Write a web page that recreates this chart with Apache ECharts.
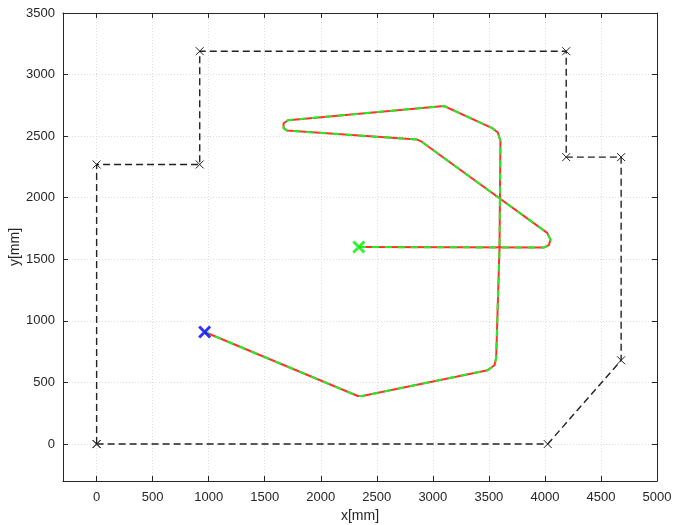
<!DOCTYPE html>
<html>
<head>
<meta charset="utf-8">
<script src="https://cdn.jsdelivr.net/npm/echarts@6/dist/echarts.min.js"></script>
<style>html,body{margin:0;padding:0;background:#fff}#c{width:673px;height:525px}</style>
</head>
<body>
<div id="c"></div>
<script>
// Boundary polygon (black dashed, x markers)
var boundary = [[0,0],[0,2270],[920,2270],[920,3190],[4190,3190],[4190,2330],[4680,2330],[4680,680],[4025,0],[0,0]];
// Trajectory (red line with green dashes)
var path = [[2340,1600],[3990,1595],[4035,1615],[4050,1660],[4020,1715],[2900,2455],[2860,2472],[1700,2545],[1668,2565],[1668,2605],[1710,2630],[3100,2745],[3530,2565],[3580,2530],[3603,2460],[3595,1600],[3565,700],[3550,640],[3490,600],[2370,390],[2330,390],[964,910]];
var startPt = [[2340,1600]];
var endPt = [[964,910]];
var xTicks = [0,500,1000,1500,2000,2500,3000,3500,4000,4500,5000];
var yTicks = [0,500,1000,1500,2000,2500,3000,3500];

var X = 'path://M0,0L10,10M10,0L0,10';
var axisCol = '#262626';
var font = 'Liberation Sans, Arial, sans-serif';
function fmt(v){ return String(v); }

function xAx(pos, show) {
  return {
    type:'value', position:pos, min:-300, max:5000, interval:100,
    axisLine:{show:true, onZero:false, lineStyle:{color:axisCol, width:1}},
    axisTick:{show:true, inside:true, length:5, customValues:xTicks, lineStyle:{color:axisCol}},
    axisLabel:{show:show, customValues:xTicks, formatter:fmt, color:axisCol, fontSize:13, fontFamily:font, margin:10},
    splitLine:{show:show, lineStyle:{color:'#dcdcdc', type:[1,2], width:1}},
    name: show ? 'x[mm]' : '', nameLocation:'middle', nameGap:28, nameMoveOverlap:false,
    nameTextStyle:{color:axisCol, fontSize:14, fontFamily:font}
  };
}
function yAx(pos, show) {
  return {
    type:'value', position:pos, min:-300, max:3500, interval:100,
    axisLine:{show:true, onZero:false, lineStyle:{color:axisCol, width:1}},
    axisTick:{show:true, inside:true, length:5, customValues:yTicks, lineStyle:{color:axisCol}},
    axisLabel:{show:show, customValues:yTicks, formatter:fmt, color:axisCol, fontSize:13, fontFamily:font, margin:8},
    splitLine:{show:show, lineStyle:{color:'#dcdcdc', type:[1,2], width:1}},
    name: show ? 'y[mm]' : '', nameLocation:'middle', nameGap:41, nameRotate:90, nameMoveOverlap:false,
    nameTextStyle:{color:axisCol, fontSize:14, fontFamily:font}
  };
}

var chart = echarts.init(document.getElementById('c'), null, {renderer:'canvas'});
chart.setOption({
  animation:false,
  backgroundColor:'#fff',
  grid:{left:63, right:16, top:13, bottom:44, containLabel:false, outerBoundsMode:'none'},
  xAxis:[xAx('bottom', true), xAx('top', false)],
  yAxis:[yAx('left', true), yAx('right', false)],
  series:[
    {type:'line', data:boundary, symbol:X, symbolSize:8, showSymbol:true,
     lineStyle:{color:'#222', width:1.4, type:[7,4]},
     itemStyle:{color:'transparent', borderColor:'#222', borderWidth:1}, z:3},
    {type:'line', data:path, symbol:'none', lineStyle:{color:'#ff3030', width:2}, z:4},
    {type:'line', data:path, symbol:'none', lineStyle:{color:'#22ee22', width:2, type:[7,6]}, z:5},
    {type:'scatter', data:startPt, symbol:X, symbolSize:11,
     itemStyle:{color:'transparent', borderColor:'#00ee00', borderWidth:3}, z:6},
    {type:'scatter', data:endPt, symbol:X, symbolSize:11,
     itemStyle:{color:'transparent', borderColor:'#0000ff', borderWidth:3}, z:6}
  ]
});
</script>
</body>
</html>
